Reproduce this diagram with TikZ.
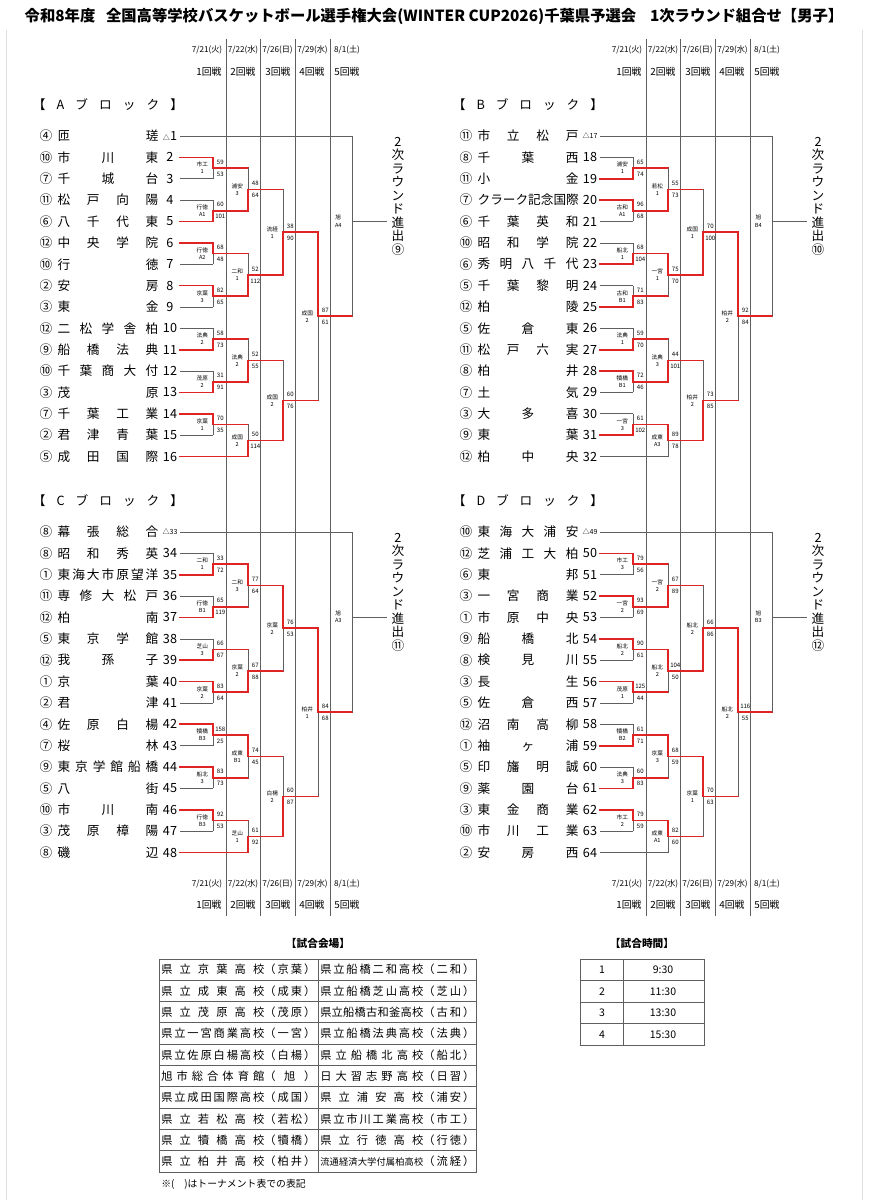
\documentclass[tikz,border=0pt]{standalone}
\usepackage{fontspec}
\setmainfont{Noto Sans CJK JP}
\usepackage{xcolor}
\usetikzlibrary{positioning,calc}
\definecolor{WinRed}{RGB}{224,36,36}
\definecolor{LineGray}{RGB}{95,95,95}
\definecolor{FrameGray}{RGB}{222,222,222}

% small triangle used for the seeded (bye) entries
\newcommand{\byeseed}[1]{{\fontsize{5}{5}\selectfont △#1}}
% letters spread evenly over a fixed width (spaces mark the gaps)
\newcommand{\spread}[2]{\makebox[#1][s]{\spaceskip=0pt plus 1fil\relax #2}}

% sixteen team rows of one block: #1 block, #2 side, #3 x shift, #4 y of first row, #5 data
\newcommand{\blockrows}[5]{%
  \foreach \cn/\tn/\sd/\wc [count=\k] in {#5} {
    \pgfmathsetmacro{\ry}{#4+(\k-1)*21.37}
    \ifnum\k=1 \def\ecol{j5}\else\ifnum\k=16 \def\ecol{j2}\else\def\ecol{j1}\fi\fi
    \node[circnum] (#1-c\k) at (46+#3,\ry) {\cn};
    \node[teamname] (#1-n\k) at (108+#3,\ry) {\spread{2.52cm}{\tn}};
    \node[seednum] (#1-s\k) at (170+#3,\ry) {\sd};
    \coordinate (#1-t\k) at (180+#3,\ry);
    \draw[\wc] (#1-t\k) -- (#1-t\k -| #2-\ecol);
  }
}

% one game: #1 name, #2 top entry, #3 bottom entry, #4 column, #5 next column,
% #6 venue label, #7 top score, #8 bottom score, #9 winning entry
\newcommand{\bout}[9]{%
  \path ($(#2)!0.5!(#3)$) coordinate (#1-mid);
  \coordinate (#1) at (#1-mid -| #4);
  \draw[gline] (#2 -| #1) -- (#3 -| #1);
  \draw[rline] (#9 -| #1) -- (#1) -- (#1 -| #5);
  \node[boutlabel] (#1-lb) at ($(#1)+(-11,0)$) {#6};
  \node[boutscore] (#1-sa) at ($(#1)+(7,-6)$) {#7};
  \node[boutscore] (#1-sb) at ($(#1)+(7,6)$) {#8};
}

% last game of a block (not yet played)
\newcommand{\finalbout}[6]{%
  \path ($(#2)!0.5!(#3)$) coordinate (#1-mid);
  \coordinate (#1) at ($(#1-mid -| #4)+(0,-5)$);
  \draw[gline] (#2 -| #1) -- (#3 -| #1);
  \draw[gline] (#1) -- (#1 -| #5);
  \node[boutlabel] (#1-lb) at ($(#1)+(-14,0)$) {#6};
}

\begin{document}
\begin{tikzpicture}[
    x=0.025cm, y=-0.025cm,
    font=\fontsize{9}{9}\selectfont,
    colline/.style={draw=LineGray, line width=0.45pt},
    gline/.style={draw=LineGray, line width=0.45pt},
    rline/.style={draw=WinRed, line width=1.2pt, line cap=rect, line join=miter},
    tableline/.style={draw=LineGray, line width=0.6pt},
    circnum/.style={inner sep=0pt, font=\fontsize{9}{9}\selectfont},
    teamname/.style={inner sep=0pt, font=\fontsize{9}{9}\selectfont},
    seednum/.style={inner sep=0pt, font=\fontsize{9}{9}\selectfont},
    boutlabel/.style={inner sep=0pt, align=center, font=\fontsize{4}{5}\selectfont},
    boutscore/.style={inner sep=0pt, font=\fontsize{4.3}{4.3}\selectfont},
    blockhead/.style={inner sep=0pt, font=\fontsize{9}{9}\selectfont},
    advance/.style={inner sep=0pt, align=center, font=\fontsize{9}{9.6}\selectfont},
    datehead/.style={inner sep=0pt, font=\fontsize{5.8}{5.8}\selectfont},
    roundhead/.style={inner sep=0pt, font=\fontsize{7}{7}\selectfont},
    titletext/.style={inner sep=0pt, font=\fontsize{10.9}{10.9}\selectfont\bfseries},
    tabletitle/.style={inner sep=0pt, font=\fontsize{7.6}{7.6}\selectfont\bfseries},
    venuecell/.style={inner sep=0pt, anchor=west, font=\fontsize{8}{8}\selectfont},
    timecell/.style={inner sep=0pt, font=\fontsize{7.5}{7.5}\selectfont},
    footnote/.style={inner sep=0pt, anchor=west, font=\fontsize{7}{7}\selectfont}
]
\useasboundingbox (0,0) rectangle (868,1200);
\fill[white] (0,0) rectangle (868,1200);

% faint page edges of the scanned sheet
\draw[FrameGray, line width=0.5pt] (6,30) -- (6,1200);
\draw[FrameGray, line width=0.5pt] (862,30) -- (862,1200);

% title
\node[titletext] (title) at (434,16) {令和8年度\hspace{0.7em}全国高等学校バスケットボール選手権大会(WINTER CUP2026)千葉県予選会\hspace{0.9em}1次ラウンド組合せ【男子】};

% round columns and their headings, top and bottom, both halves
\foreach \s/\dx in {L/0,R/420} {
  \foreach \x in {226,260,295,330}
    \draw[colline] (\x+\dx,39) -- (\x+\dx,916);
  \foreach \d/\r/\xd/\xr [count=\i] in {{7/21(火)}/1回戦/207/209, {7/22(水)}/2回戦/243/243,
      {7/26(日)}/3回戦/277.5/278, {7/29(水)}/4回戦/312.5/312, {8/1(土)}/5回戦/347/347} {
    \node[datehead] (\s-dt\i) at (\xd+\dx,50) {\d};
    \node[roundhead] (\s-rt\i) at (\xr+\dx,72) {\r};
    \node[datehead] (\s-db\i) at (\xd+\dx,884) {\d};
    \node[roundhead] (\s-rb\i) at (\xr+\dx,905) {\r};
  }
  \coordinate (\s-j1) at (213.3+\dx,0);
  \coordinate (\s-j2) at (248.3+\dx,0);
  \coordinate (\s-j3) at (283.3+\dx,0);
  \coordinate (\s-j4) at (318.3+\dx,0);
  \coordinate (\s-j5) at (352.3+\dx,0);
  \coordinate (\s-out) at (387+\dx,0);
}

% block headings and the advance notes
\node[blockhead] (A-head) at (108,105) {\spread{3.75cm}{【 A ブ ロ ッ ク 】}};
\node[blockhead] (B-head) at (528,105) {\spread{3.75cm}{【 B ブ ロ ッ ク 】}};
\node[blockhead] (C-head) at (108,501) {\spread{3.75cm}{【 C ブ ロ ッ ク 】}};
\node[blockhead] (D-head) at (528,501) {\spread{3.75cm}{【 D ブ ロ ッ ク 】}};
\node[advance] (A-adv) at (398,196) {2\\次\\ラ\\ウ\\ン\\ド\\進\\出\\⑨};
\node[advance] (B-adv) at (818,196) {2\\次\\ラ\\ウ\\ン\\ド\\進\\出\\⑩};
\node[advance] (C-adv) at (398,592) {2\\次\\ラ\\ウ\\ン\\ド\\進\\出\\⑪};
\node[advance] (D-adv) at (818,592) {2\\次\\ラ\\ウ\\ン\\ド\\進\\出\\⑫};

% A block
\blockrows{A}{L}{0}{136}{④/匝 瑳/\byeseed{}1/gline, ⑩/市 川 東/2/rline, ⑦/千 城 台/3/gline,
  ⑪/松 戸 向 陽/4/gline, ⑥/八 千 代 東/5/rline, ⑫/中 央 学 院/6/rline, ⑩/行 徳/7/gline,
  ②/安 房/8/rline, ③/東 金/9/gline, ⑫/二 松 学 舎 柏/10/gline, ⑨/船 橋 法 典/11/rline,
  ⑩/千 葉 商 大 付/12/gline, ③/茂 原/13/rline, ⑦/千 葉 工 業/14/rline, ②/君 津 青 葉/15/gline,
  ⑤/成 田 国 際/16/rline}
\bout{A-a1}{A-t2}{A-t3}{L-j1}{L-j2}{市工\\1}{59}{53}{A-t2}
\bout{A-a2}{A-t4}{A-t5}{L-j1}{L-j2}{行徳\\A1}{60}{101}{A-t5}
\bout{A-a3}{A-t6}{A-t7}{L-j1}{L-j2}{行徳\\A2}{68}{48}{A-t6}
\bout{A-a4}{A-t8}{A-t9}{L-j1}{L-j2}{京葉\\3}{82}{65}{A-t8}
\bout{A-a5}{A-t10}{A-t11}{L-j1}{L-j2}{法典\\2}{58}{73}{A-t11}
\bout{A-a6}{A-t12}{A-t13}{L-j1}{L-j2}{茂原\\2}{31}{91}{A-t13}
\bout{A-a7}{A-t14}{A-t15}{L-j1}{L-j2}{京葉\\1}{70}{35}{A-t14}
\bout{A-b1}{A-a1}{A-a2}{L-j2}{L-j3}{浦安\\3}{48}{64}{A-a2}
\bout{A-b2}{A-a3}{A-a4}{L-j2}{L-j3}{二和\\1}{52}{112}{A-a4}
\bout{A-b3}{A-a5}{A-a6}{L-j2}{L-j3}{法典\\2}{52}{55}{A-a6}
\bout{A-b4}{A-a7}{A-t16}{L-j2}{L-j3}{成国\\2}{50}{114}{A-t16}
\bout{A-c1}{A-b1}{A-b2}{L-j3}{L-j4}{流経\\1}{38}{90}{A-b2}
\bout{A-c2}{A-b3}{A-b4}{L-j3}{L-j4}{成国\\2}{60}{76}{A-b4}
\bout{A-d1}{A-c1}{A-c2}{L-j4}{L-j5}{成国\\2}{87}{61}{A-c1}
\finalbout{A-e}{A-t1}{A-d1}{L-j5}{L-out}{旭\\A4}

% B block
\blockrows{B}{R}{420}{136}{⑪/市 立 松 戸/\byeseed{17}/gline, ⑧/千 葉 西/18/gline, ⑪/小 金/19/rline,
  ⑦/ク ラ ー ク 記 念 国 際/20/rline, ⑥/千 葉 英 和/21/gline, ⑩/昭 和 学 院/22/gline,
  ⑥/秀 明 八 千 代/23/rline, ⑤/千 葉 黎 明/24/gline, ⑫/柏 陵/25/rline, ⑤/佐 倉 東/26/gline,
  ⑪/松 戸 六 実/27/rline, ⑧/柏 井/28/rline, ⑦/土 気/29/gline, ③/大 多 喜/30/gline,
  ⑨/東 葉/31/rline, ⑫/柏 中 央/32/gline}
\bout{B-a1}{B-t2}{B-t3}{R-j1}{R-j2}{浦安\\1}{65}{74}{B-t3}
\bout{B-a2}{B-t4}{B-t5}{R-j1}{R-j2}{古和\\A1}{96}{68}{B-t4}
\bout{B-a3}{B-t6}{B-t7}{R-j1}{R-j2}{船北\\1}{68}{104}{B-t7}
\bout{B-a4}{B-t8}{B-t9}{R-j1}{R-j2}{古和\\B1}{71}{83}{B-t9}
\bout{B-a5}{B-t10}{B-t11}{R-j1}{R-j2}{法典\\1}{59}{70}{B-t11}
\bout{B-a6}{B-t12}{B-t13}{R-j1}{R-j2}{犢橋\\B1}{72}{46}{B-t12}
\bout{B-a7}{B-t14}{B-t15}{R-j1}{R-j2}{一宮\\3}{61}{102}{B-t15}
\bout{B-b1}{B-a1}{B-a2}{R-j2}{R-j3}{若松\\1}{55}{73}{B-a2}
\bout{B-b2}{B-a3}{B-a4}{R-j2}{R-j3}{一宮\\1}{75}{70}{B-a3}
\bout{B-b3}{B-a5}{B-a6}{R-j2}{R-j3}{法典\\3}{44}{101}{B-a6}
\bout{B-b4}{B-a7}{B-t16}{R-j2}{R-j3}{成東\\A3}{89}{78}{B-a7}
\bout{B-c1}{B-b1}{B-b2}{R-j3}{R-j4}{成国\\1}{70}{100}{B-b2}
\bout{B-c2}{B-b3}{B-b4}{R-j3}{R-j4}{柏井\\2}{73}{85}{B-b4}
\bout{B-d1}{B-c1}{B-c2}{R-j4}{R-j5}{柏井\\2}{92}{84}{B-c1}
\finalbout{B-e}{B-t1}{B-d1}{R-j5}{R-out}{旭\\B4}

% C block
\blockrows{C}{L}{0}{532}{⑧/幕 張 総 合/\byeseed{33}/gline, ⑧/昭 和 秀 英/34/gline,
  ①/東 海 大 市 原 望 洋/35/rline, ⑪/専 修 大 松 戸/36/gline, ⑫/柏 南/37/rline,
  ⑤/東 京 学 館/38/gline, ⑫/我 孫 子/39/rline, ①/京 葉/40/rline, ②/君 津/41/gline,
  ④/佐 原 白 楊/42/rline, ⑦/桜 林/43/gline, ⑨/東 京 学 館 船 橋/44/rline, ⑤/八 街/45/gline,
  ⑩/市 川 南/46/rline, ③/茂 原 樟 陽/47/gline, ⑧/磯 辺/48/rline}
\bout{C-a1}{C-t2}{C-t3}{L-j1}{L-j2}{二和\\1}{33}{72}{C-t3}
\bout{C-a2}{C-t4}{C-t5}{L-j1}{L-j2}{行徳\\B1}{65}{119}{C-t5}
\bout{C-a3}{C-t6}{C-t7}{L-j1}{L-j2}{芝山\\3}{66}{67}{C-t7}
\bout{C-a4}{C-t8}{C-t9}{L-j1}{L-j2}{京葉\\2}{83}{64}{C-t8}
\bout{C-a5}{C-t10}{C-t11}{L-j1}{L-j2}{犢橋\\B3}{158}{25}{C-t10}
\bout{C-a6}{C-t12}{C-t13}{L-j1}{L-j2}{船北\\3}{83}{73}{C-t12}
\bout{C-a7}{C-t14}{C-t15}{L-j1}{L-j2}{行徳\\B3}{92}{53}{C-t14}
\bout{C-b1}{C-a1}{C-a2}{L-j2}{L-j3}{二和\\3}{77}{64}{C-a1}
\bout{C-b2}{C-a3}{C-a4}{L-j2}{L-j3}{京葉\\2}{67}{88}{C-a4}
\bout{C-b3}{C-a5}{C-a6}{L-j2}{L-j3}{成東\\B1}{74}{45}{C-a5}
\bout{C-b4}{C-a7}{C-t16}{L-j2}{L-j3}{芝山\\1}{61}{92}{C-t16}
\bout{C-c1}{C-b1}{C-b2}{L-j3}{L-j4}{京葉\\2}{76}{53}{C-b1}
\bout{C-c2}{C-b3}{C-b4}{L-j3}{L-j4}{白楊\\2}{60}{87}{C-b4}
\bout{C-d1}{C-c1}{C-c2}{L-j4}{L-j5}{柏井\\1}{84}{68}{C-c1}
\finalbout{C-e}{C-t1}{C-d1}{L-j5}{L-out}{旭\\A3}

% D block
\blockrows{D}{R}{420}{532}{⑩/東 海 大 浦 安/\byeseed{49}/gline, ⑫/芝 浦 工 大 柏/50/rline,
  ⑥/東 邦/51/gline, ③/一 宮 商 業/52/rline, ①/市 原 中 央/53/gline, ⑨/船 橋 北/54/rline,
  ⑧/検 見 川/55/gline, ③/長 生/56/rline, ⑤/佐 倉 西/57/gline, ⑫/沼 南 高 柳/58/gline,
  ①/袖 ヶ 浦/59/rline, ⑤/印 旛 明 誠/60/gline, ⑨/薬 園 台/61/rline, ③/東 金 商 業/62/rline,
  ⑩/市 川 工 業/63/gline, ②/安 房 西/64/gline}
\bout{D-a1}{D-t2}{D-t3}{R-j1}{R-j2}{市工\\3}{79}{56}{D-t2}
\bout{D-a2}{D-t4}{D-t5}{R-j1}{R-j2}{一宮\\2}{93}{69}{D-t4}
\bout{D-a3}{D-t6}{D-t7}{R-j1}{R-j2}{船北\\2}{90}{61}{D-t6}
\bout{D-a4}{D-t8}{D-t9}{R-j1}{R-j2}{茂原\\1}{125}{44}{D-t8}
\bout{D-a5}{D-t10}{D-t11}{R-j1}{R-j2}{犢橋\\B2}{61}{71}{D-t11}
\bout{D-a6}{D-t12}{D-t13}{R-j1}{R-j2}{法典\\3}{60}{83}{D-t13}
\bout{D-a7}{D-t14}{D-t15}{R-j1}{R-j2}{市工\\2}{79}{59}{D-t14}
\bout{D-b1}{D-a1}{D-a2}{R-j2}{R-j3}{一宮\\2}{67}{89}{D-a2}
\bout{D-b2}{D-a3}{D-a4}{R-j2}{R-j3}{船北\\2}{104}{50}{D-a3}
\bout{D-b3}{D-a5}{D-a6}{R-j2}{R-j3}{京葉\\3}{68}{59}{D-a5}
\bout{D-b4}{D-a7}{D-t16}{R-j2}{R-j3}{成東\\A1}{82}{60}{D-a7}
\bout{D-c1}{D-b1}{D-b2}{R-j3}{R-j4}{船北\\2}{66}{86}{D-b2}
\bout{D-c2}{D-b3}{D-b4}{R-j3}{R-j4}{京葉\\1}{70}{63}{D-b3}
\bout{D-d1}{D-c1}{D-c2}{R-j4}{R-j5}{船北\\2}{116}{55}{D-c1}
\finalbout{D-e}{D-t1}{D-d1}{R-j5}{R-out}{旭\\B3}

% venues table
\node[tabletitle] (venue-title) at (318,943) {【試合会場】};
\draw[tableline] (159,959) rectangle (476,1172);
\foreach \i in {1,...,9}
  \draw[tableline] (159,959+\i*21.3) -- (476,959+\i*21.3);
\draw[tableline] (318,959) -- (318,1172);
\foreach \ln/\la/\rn/\ra [count=\i] in {
    県 立 京 葉 高 校/（ 京 葉 ）/県 立 船 橋 二 和 高 校/（ 二 和 ）,
    県 立 成 東 高 校/（ 成 東 ）/県 立 船 橋 芝 山 高 校/（ 芝 山 ）,
    県 立 茂 原 高 校/（ 茂 原 ）/県 立 船 橋 古 和 釜 高 校/（ 古 和 ）,
    県 立 一 宮 商 業 高 校/（ 一 宮 ）/県 立 船 橋 法 典 高 校/（ 法 典 ）,
    県 立 佐 原 白 楊 高 校/（ 白 楊 ）/県 立 船 橋 北 高 校/（ 船 北 ）,
    旭 市 総 合 体 育 館/（ 旭 ）/日 大 習 志 野 高 校/（ 日 習 ）,
    県 立 成 田 国 際 高 校/（ 成 国 ）/県 立 浦 安 高 校/（ 浦 安 ）,
    県 立 若 松 高 校/（ 若 松 ）/県 立 市 川 工 業 高 校/（ 市 工 ）,
    県 立 犢 橋 高 校/（ 犢 橋 ）/県 立 行 徳 高 校/（ 行 徳 ）,
    県 立 柏 井 高 校/（ 柏 井 ）/{\fontsize{6.6}{6.6}\selectfont 流 通 経 済 大 学 付 属 柏 高 校}/（ 流 経 ）} {
  \node[venuecell] (venue-l\i) at (161,959+\i*21.3-10.65) {\spread{2.575cm}{\ln}\spread{1.275cm}{\la}};
  \node[venuecell] (venue-r\i) at (320,959+\i*21.3-10.65) {\spread{2.575cm}{\rn}\spread{1.275cm}{\ra}};
}
\node[footnote] (venue-note) at (161,1184) {※(　)はトーナメント表での表記};

% game times table
\node[tabletitle] (time-title) at (642,943) {【試合時間】};
\draw[tableline] (580,959) rectangle (704,1045);
\foreach \i in {1,2,3}
  \draw[tableline] (580,959+\i*21.5) -- (704,959+\i*21.5);
\draw[tableline] (623,959) -- (623,1045);
\foreach \n/\t [count=\i] in {1/9:30, 2/11:30, 3/13:30, 4/15:30} {
  \node[timecell] (time-n\i) at (602,959+\i*21.5-10.75) {\n};
  \node[timecell] (time-t\i) at (663,959+\i*21.5-10.75) {\t};
}

\end{tikzpicture}
\end{document}
